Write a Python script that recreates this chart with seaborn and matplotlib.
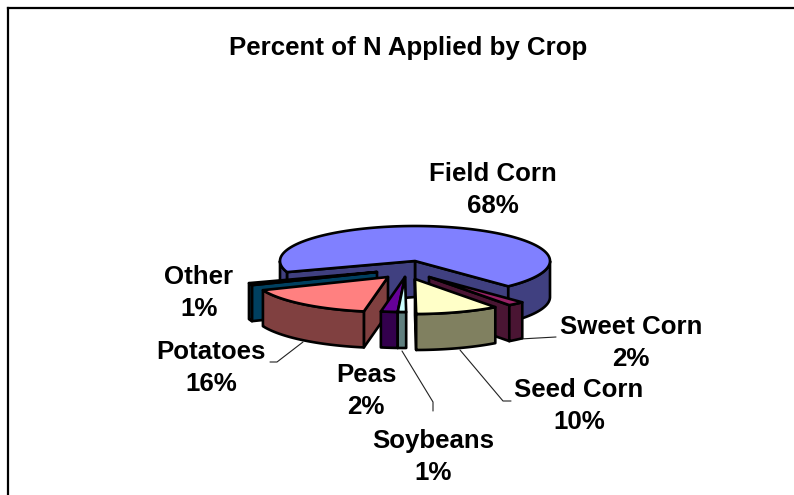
import numpy as np
import matplotlib
matplotlib.use("Agg")
import matplotlib.pyplot as plt
from matplotlib.patches import Polygon
import seaborn as sns

# Nitrogen share by crop, clockwise from the largest slice
crops = ["Field Corn", "Sweet Corn", "Seed Corn", "Soybeans", "Peas", "Potatoes", "Other"]
shares = [68, 2, 10, 1, 2, 16, 1]

top_colors = ["#8080FF", "#992266", "#FFFFC8", "#CCFFFF", "#660099", "#FF8080", "#006080"]
side_colors = ["#404080", "#4A1533", "#808060", "#608080", "#33004D", "#804040", "#004060"]

# How far each slice is pulled from the pie centre (horizontal, vertical)
pull_x = [0, 14, 0, -10, -10, -27, -38]
pull_y = [0, 16, 18, 16, 16, 16, 11]

# Back-to-front drawing order
draw_order = [0, 6, 1, 5, 4, 3, 2]

# Label centres and leader lines
label_x = [493, 631, 579, 433, 366, 211, 199]
label_y = [190, 343, 406, 457, 391, 368, 293]
leader_lines = {
    1: ([520, 556], [339, 337]),
    2: ([460, 503, 511], [350, 401, 401]),
    3: ([402, 433, 433], [351, 402, 411]),
    5: ([303, 277, 270], [342, 362, 362]),
}

CX, CY, RX, RY, DEPTH = 415, 261, 135, 35, 36
START_ANGLE = 198.5
EDGE = dict(edgecolor="black", linewidth=1.9, joinstyle="round")

sns.set_theme(style="white")
plt.rcParams["font.family"] = ["Liberation Sans", "DejaVu Sans"]

fig = plt.figure(figsize=(7.94, 4.95), dpi=100, facecolor="white")
ax = fig.add_axes([8 / 794, 0, 786 / 794, 487 / 495])
ax.set_xlim(8, 794)
ax.set_ylim(495, 8)
ax.set_xticks([])
ax.set_yticks([])
sns.despine(ax=ax, right=True, bottom=True, top=False, left=False)
for side in ("left", "top"):
    ax.spines[side].set_color("black")
    ax.spines[side].set_linewidth(1.6)


def rim(angles, ox, oy, drop=0.0):
    rad = np.radians(angles)
    return np.column_stack([CX + ox + RX * np.cos(rad), CY + oy + drop - RY * np.sin(rad)])


def add_face(points, color, z):
    ax.add_patch(Polygon(points, closed=True, facecolor=color, zorder=z, **EDGE))


def draw_slice(low, high, ox, oy, top, side, z):
    apex = np.array([CX + ox, CY + oy])
    down = np.array([0, DEPTH])
    # Radial walls that face the viewer
    for angle, normal in ((low, low - 90), (high, high + 90)):
        if np.sin(np.radians(normal)) < 0:
            tip = rim(np.array([angle]), ox, oy)[0]
            add_face([apex, tip, tip + down, apex + down], side, z)
    # Outer wall, only where the rim curves towards the viewer
    sweep = np.linspace(low, high, 240)
    front = np.sin(np.radians(sweep)) <= 0
    edges = np.flatnonzero(np.diff(np.r_[0, front.astype(int), 0]))
    for first, last in zip(edges[::2], edges[1::2]):
        run = sweep[first:last]
        if len(run) > 1:
            add_face(np.vstack([rim(run, ox, oy), rim(run[::-1], ox, oy, DEPTH)]), side, z + 0.1)
    # Top face
    arc = rim(np.linspace(low, high, 240), ox, oy)
    add_face(np.vstack([apex, arc]), top, z + 0.2)


# Each slice runs clockwise from where the previous one ended
spans = np.array(shares) / sum(shares) * 360
upper = START_ANGLE - np.r_[0, np.cumsum(spans)[:-1]]
lower = upper - spans

for rank, i in enumerate(draw_order):
    draw_slice(lower[i], upper[i], pull_x[i], pull_y[i], top_colors[i], side_colors[i], 2 + rank)

for xs, ys in leader_lines.values():
    ax.plot(xs, ys, color="#222222", linewidth=0.8, zorder=1)

for crop, share, x, y in zip(crops, shares, label_x, label_y):
    ax.text(x, y, f"{crop}\n{share}%", ha="center", va="center", fontsize=18.6,
            fontweight="bold", color="black", linespacing=1.47, zorder=20)

ax.text(408, 48.5, "Percent of N Applied by Crop", ha="center", va="center",
        fontsize=18.6, fontweight="bold", color="black", zorder=20)

fig.savefig("out.png", dpi=100, facecolor="white")
